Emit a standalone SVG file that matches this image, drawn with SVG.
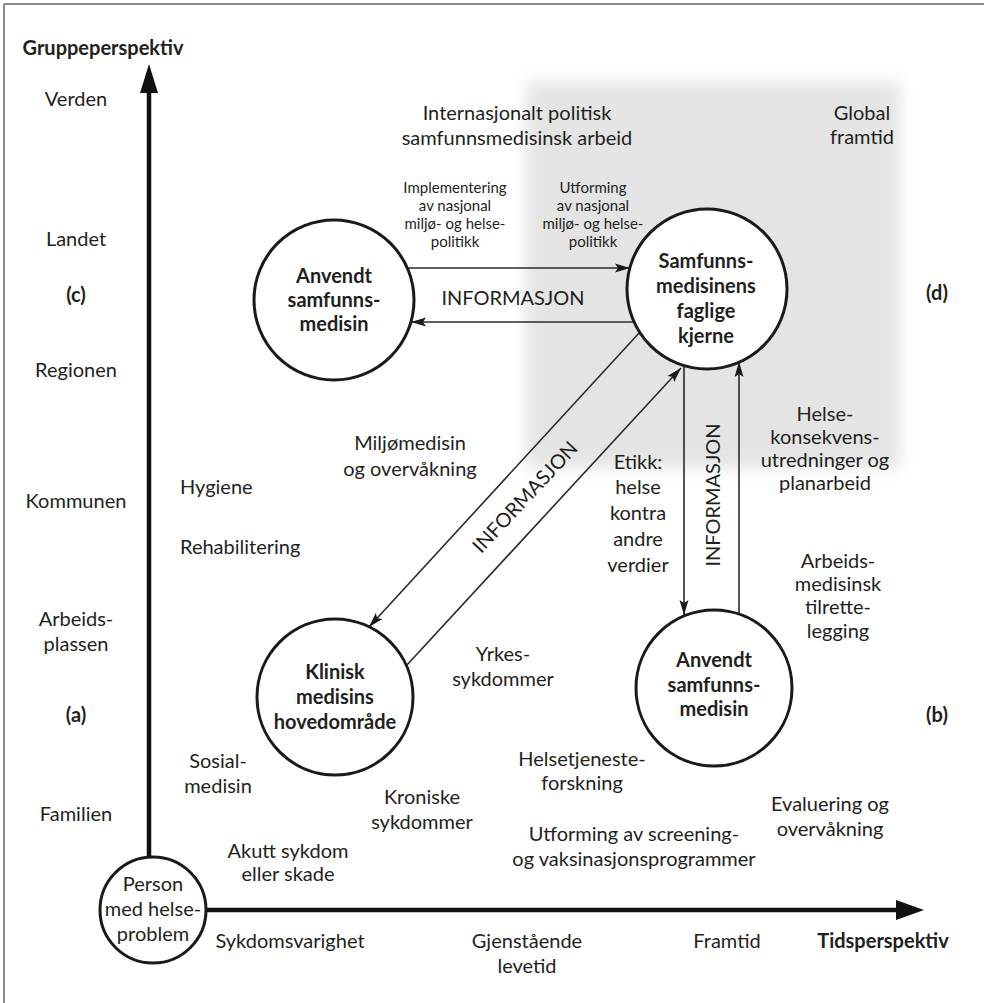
<svg xmlns="http://www.w3.org/2000/svg" width="984" height="1003" viewBox="0 0 984 1003">
<defs>
<style>
text{font-family:Lato,"Open Sans","Liberation Sans",sans-serif;font-size:20px;fill:#231f20;text-anchor:middle}
.b{font-weight:bold}
.s{font-size:15px}
.l{text-anchor:start}
.node circle{fill:#fff;stroke:#1a1a1a;stroke-width:3}
.conn line{stroke:#2a2a2a;stroke-width:1.6;marker-end:url(#ah)}
.axis{stroke:#111;stroke-width:4.5}
</style>
<marker id="ah" markerUnits="userSpaceOnUse" markerWidth="16" markerHeight="10" refX="15" refY="5" orient="auto">
<path d="M0,0.5 L15,5 L0,9.5 L3,5 z" fill="#1a1a1a"/>
</marker>
<filter id="blur" x="-10%" y="-10%" width="120%" height="120%">
<feGaussianBlur stdDeviation="8"/>
</filter>
</defs>
<rect width="984" height="1003" fill="#fff"/>
<rect x="526" y="82" width="374" height="386" fill="#e4e4e4" filter="url(#blur)"/>
<g id="frame" stroke="#666" stroke-width="1.5">
<line x1="4" y1="4" x2="984" y2="4"/>
<line x1="4" y1="4" x2="4" y2="1003"/>
</g>

<g id="axes">
<line class="axis" x1="149" y1="858" x2="149" y2="88"/>
<polygon points="149,64 140,93 158,93" fill="#111"/>
<line class="axis" x1="205" y1="910" x2="900" y2="910"/>
<polygon points="924,910 896,900 896,920" fill="#111"/>
</g>

<g id="connectors" class="conn">
<line x1="407" y1="268" x2="630" y2="268"/>
<line x1="634" y1="322" x2="411" y2="322"/>
<line x1="640" y1="332" x2="369" y2="627"/>
<line x1="406" y1="666" x2="681" y2="368"/>
<line x1="684" y1="366" x2="684" y2="615"/>
<line x1="739" y1="614" x2="739" y2="362"/>
</g>
<g id="connector-labels">
<text x="513" y="305">INFORMASJON</text>
<text transform="translate(525,497) rotate(-47)" y="7">INFORMASJON</text>
<text transform="translate(713,495) rotate(-90)" y="7">INFORMASJON</text>
</g>

<g id="node-person" class="node">
<circle cx="153" cy="910" r="53" stroke-width="2.5"/>
<text x="153" y="891">Person</text>
<text x="153" y="916">med helse-</text>
<text x="153" y="941">problem</text>
</g>
<g id="node-anvendt-1" class="node">
<circle cx="334" cy="300" r="80"/>
<text class="b" x="334" y="283">Anvendt</text>
<text class="b" x="334" y="307">samfunns-</text>
<text class="b" x="334" y="331">medisin</text>
</g>
<g id="node-kjerne" class="node">
<circle cx="707" cy="289" r="80"/>
<text class="b" x="706" y="268">Samfunns-</text>
<text class="b" x="706" y="293">medisinens</text>
<text class="b" x="706" y="318">faglige</text>
<text class="b" x="706" y="343">kjerne</text>
</g>
<g id="node-klinisk" class="node">
<circle cx="335" cy="697" r="78"/>
<text class="b" x="335" y="679">Klinisk</text>
<text class="b" x="335" y="704">medisins</text>
<text class="b" x="335" y="729">hovedområde</text>
</g>
<g id="node-anvendt-2" class="node">
<circle cx="714" cy="688" r="78"/>
<text class="b" x="714" y="667">Anvendt</text>
<text class="b" x="714" y="692">samfunns-</text>
<text class="b" x="714" y="716">medisin</text>
</g>

<g id="labels">
<text class="b" x="103" y="55">Gruppeperspektiv</text>
<text x="76" y="106">Verden</text>
<text x="76" y="246">Landet</text>
<text class="b" x="76" y="302">(c)</text>
<text x="76" y="377">Regionen</text>
<text x="76" y="508">Kommunen</text>
<text x="76" y="626">Arbeids-</text>
<text x="76" y="651">plassen</text>
<text class="b" x="76" y="722">(a)</text>
<text x="76" y="821">Familien</text>

<text x="517" y="120">Internasjonalt politisk</text>
<text x="517" y="145">samfunnsmedisinsk arbeid</text>
<text x="862" y="120">Global</text>
<text x="862" y="144">framtid</text>
<text class="b" x="937" y="300">(d)</text>

<text class="s" x="455" y="193">Implementering</text>
<text class="s" x="455" y="211">av nasjonal</text>
<text class="s" x="455" y="229">miljø- og helse-</text>
<text class="s" x="455" y="247">politikk</text>
<text class="s" x="593" y="193">Utforming</text>
<text class="s" x="593" y="211">av nasjonal</text>
<text class="s" x="593" y="229">miljø- og helse-</text>
<text class="s" x="593" y="247">politikk</text>

<text x="410" y="450">Miljømedisin</text>
<text x="410" y="476">og overvåkning</text>
<text class="l" x="180" y="494">Hygiene</text>
<text class="l" x="180" y="554">Rehabilitering</text>

<text x="825" y="421">Helse-</text>
<text x="825" y="444">konsekvens-</text>
<text x="825" y="467">utredninger og</text>
<text x="825" y="490">planarbeid</text>

<text x="638" y="469">Etikk:</text>
<text x="638" y="494">helse</text>
<text x="638" y="520">kontra</text>
<text x="638" y="546">andre</text>
<text x="638" y="572">verdier</text>

<text x="838" y="568">Arbeids-</text>
<text x="838" y="591">medisinsk</text>
<text x="838" y="614">tilrette-</text>
<text x="838" y="638">legging</text>

<text x="503" y="661">Yrkes-</text>
<text x="503" y="686">sykdommer</text>
<text class="b" x="937" y="722">(b)</text>

<text x="218" y="768">Sosial-</text>
<text x="218" y="793">medisin</text>
<text x="422" y="804">Kroniske</text>
<text x="422" y="829">sykdommer</text>
<text x="582" y="766">Helsetjeneste-</text>
<text x="582" y="790">forskning</text>
<text x="830" y="811">Evaluering og</text>
<text x="830" y="836">overvåkning</text>
<text x="288" y="858">Akutt sykdom</text>
<text x="288" y="881">eller skade</text>
<text x="634" y="841">Utforming av screening-</text>
<text x="634" y="866">og vaksinasjonsprogrammer</text>

<text x="290" y="948">Sykdomsvarighet</text>
<text x="527" y="948">Gjenstående</text>
<text x="527" y="973">levetid</text>
<text x="727" y="948">Framtid</text>
<text class="b" x="883" y="948">Tidsperspektiv</text>
</g>
</svg>
